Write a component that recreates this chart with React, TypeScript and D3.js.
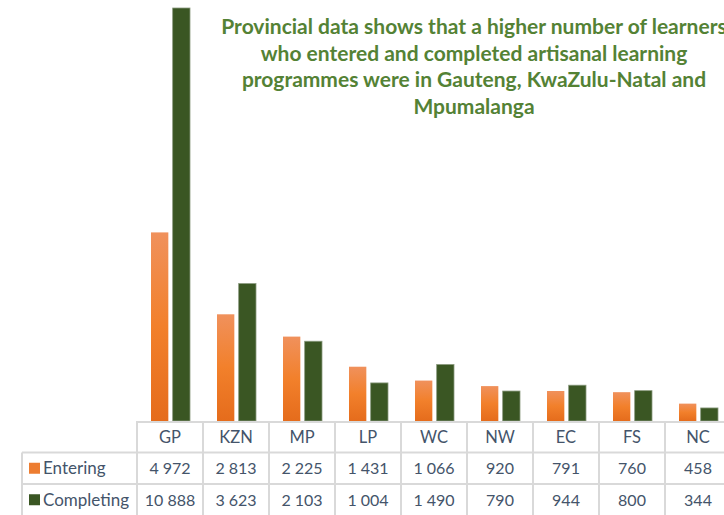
import { useEffect } from "react";
import { scaleBand, scaleLinear, formatLocale } from "d3";

// Data
const categories = ["GP", "KZN", "MP", "LP", "WC", "NW", "EC", "FS", "NC"];
const entering = [4972, 2813, 2225, 1431, 1066, 920, 791, 760, 458];
const completing = [10888, 3623, 2103, 1004, 1490, 790, 944, 800, 344];
const seriesNames = ["Entering", "Completing"];
const titleLines = [
  "Provincial data shows that a higher number of learners",
  "who entered and completed artisanal learning",
  "programmes were in Gauteng, KwaZulu-Natal and",
  "Mpumalanga",
];

const W = 724;
const H = 515;
const baseY = 421;
const rowH = 31.5;
const textColor = "#44546A";
const gridColor = "#D9D9D9";
const fmt = formatLocale({ decimal: ".", thousands: " ", grouping: [3], currency: ["", ""] }).format(",d");

export default function App() {
  useEffect(() => {
    document.body.style.margin = "0";
  }, []);

  // Scales
  const x = scaleBand<string>().domain(categories).range([137, 731]).paddingInner(0);
  const xInner = scaleBand<string>().domain(seriesNames).range([14, 53]).paddingInner(0.2);
  const y = scaleLinear().domain([0, Math.max(...completing)]).range([baseY, 8]);

  const series = [
    { name: "Entering", values: entering, fill: "url(#orangeGrad)", legend: "#ED7D31", stroke: "none" },
    { name: "Completing", values: completing, fill: "#3A5623", legend: "#3A5623", stroke: "#8A9A7E" },
  ];

  const font = "Lato, 'Open Sans', sans-serif";
  const bw = x.bandwidth();
  const tableRight = 731;

  return (
    <svg width={W} height={H} style={{ display: "block" }}>
      <defs>
        <linearGradient id="orangeGrad" x1="0" y1="0" x2="0" y2="1">
          <stop offset="0%" stopColor="#F0915C" />
          <stop offset="50%" stopColor="#F2802B" />
          <stop offset="100%" stopColor="#E56C1C" />
        </linearGradient>
      </defs>
      <rect width={W} height={H} fill="#fff" />

      {/* Title */}
      <g fontFamily={font} fontWeight="bold" fontSize={21} fill="#548235" textAnchor="middle">
        {titleLines.map((t, i) => (
          <text key={i} x={474} y={34 + i * 26.5}>
            {t}
          </text>
        ))}
      </g>

      {/* Bars */}
      {series.map((s) => (
        <g key={s.name}>
          {categories.map((c, i) => (
            <rect
              key={c}
              x={(x(c) ?? 0) + (xInner(s.name) ?? 0)}
              y={y(s.values[i])}
              width={xInner.bandwidth()}
              height={baseY - y(s.values[i])}
              fill={s.fill}
              stroke={s.stroke}
              strokeWidth={s.stroke === "none" ? 0 : 0.8}
            />
          ))}
        </g>
      ))}

      {/* Data table grid */}
      <g stroke={gridColor} strokeWidth={2} fill="none">
        <line x1={137} x2={tableRight} y1={baseY + 1} y2={baseY + 1} />
        <line x1={22} x2={tableRight} y1={baseY + rowH} y2={baseY + rowH} />
        <line x1={22} x2={tableRight} y1={baseY + rowH * 2} y2={baseY + rowH * 2} />
        <line x1={22} x2={22} y1={baseY + rowH} y2={H} />
        {categories.map((c) => (
          <line key={c} x1={x(c)} x2={x(c)} y1={baseY} y2={H} />
        ))}
      </g>

      {/* Header row */}
      <g fontFamily={font} fontSize={16.5} fill={textColor} textAnchor="middle">
        {categories.map((c) => (
          <text key={c} x={(x(c) ?? 0) + bw / 2} y={baseY + rowH / 2} dy="0.36em">
            {c}
          </text>
        ))}
      </g>

      {/* Series rows */}
      {series.map((s, r) => {
        const cy = baseY + rowH * (r + 1) + rowH / 2;
        return (
          <g key={s.name} fontFamily={font} fontSize={16} fill={textColor}>
            <rect x={29} y={cy - 5.5} width={11} height={11} fill={s.legend} />
            <text x={43} y={cy} dy="0.36em" fontSize={17}>
              {s.name}
            </text>
            {categories.map((c, i) => (
              <text key={c} x={(x(c) ?? 0) + bw / 2} y={cy} dy="0.36em" textAnchor="middle">
                {fmt(s.values[i])}
              </text>
            ))}
          </g>
        );
      })}
    </svg>
  );
}
